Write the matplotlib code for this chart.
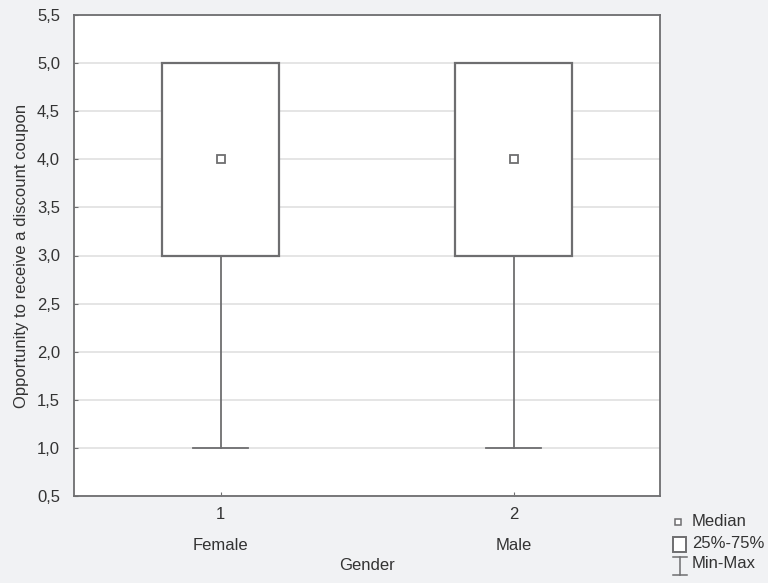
import matplotlib
matplotlib.use("Agg")
import matplotlib.pyplot as plt
import matplotlib.transforms as mtransforms
from matplotlib.patches import Rectangle
from matplotlib.lines import Line2D

categories = ["Female", "Male"]
codes = ["1", "2"]
medians = [4.0, 4.0]
q1 = [3.0, 3.0]
q3 = [5.0, 5.0]
mins = [1.0, 1.0]
maxs = [5.0, 5.0]
yticks = [0.5, 1.0, 1.5, 2.0, 2.5, 3.0, 3.5, 4.0, 4.5, 5.0, 5.5]

plt.rcParams['font.family'] = ['Liberation Sans', 'DejaVu Sans']
bg = '#f1f2f4'
ec = '#6e6e70'
tc = '#333333'
fs = 12

fig = plt.figure(figsize=(7.68, 5.83), dpi=100, facecolor=bg)
ax = fig.add_axes([74/768, 1-496/583, (660-74)/768, (496-15)/583])
ax.set_facecolor('white')

stats = []
for i in range(len(categories)):
    stats.append(dict(med=medians[i], q1=q1[i], q3=q3[i], whislo=mins[i], whishi=maxs[i], fliers=[]))
pos = list(range(1, len(categories)+1))
ax.bxp(stats, positions=pos, widths=0.4, patch_artist=True, showfliers=False,
       boxprops=dict(facecolor='white', edgecolor=ec, linewidth=1.6),
       whiskerprops=dict(color=ec, linewidth=1.3),
       capprops=dict(color=ec, linewidth=1.3),
       medianprops=dict(linewidth=0), capwidths=0.19, zorder=3)
ax.plot(pos, medians, linestyle='none', marker='s', markersize=5.5,
        markerfacecolor='white', markeredgecolor=ec, markeredgewidth=1.3, zorder=4)

ax.set_xlim(0.5, 2.5)
ax.set_ylim(0.5, 5.5)
ax.set_yticks(yticks)
ax.set_yticklabels([f"{v:.1f}".replace('.', ',') for v in yticks], color=tc, fontsize=fs)
ax.set_xticks(pos)
ax.set_xticklabels(codes, color=tc, fontsize=fs)
ax.tick_params(direction='in', length=3, color=ec)
ax.tick_params(axis='y', pad=10)
ax.tick_params(axis='x', pad=8)
ax.grid(axis='y', color='#e0e0e0', linewidth=1.2, zorder=0)
ax.set_axisbelow(True)
for s in ax.spines.values():
    s.set_color(ec)
    s.set_linewidth(1.3)

trans = mtransforms.blended_transform_factory(ax.transData, fig.transFigure)
for p, c in zip(pos, categories):
    ax.text(p, 1-545/583, c, transform=trans, ha='center', va='center', color=tc, fontsize=fs)
fig.text((74+660)/2/768, 1-565/583, "Gender", ha='center', va='center', color=tc, fontsize=fs)
ax.set_ylabel("Opportunity to receive a discount coupon", color=tc, fontsize=fs)
ax.yaxis.set_label_coords((29-74)/586, 0.5)

# legend
fx = lambda x: x/768
fy = lambda y: 1-y/583
fig.add_artist(Line2D([fx(678)], [fy(522)], marker='s', markersize=4.5, markerfacecolor='white',
                      markeredgecolor=ec, markeredgewidth=1.1, linestyle='none'))
fig.text(fx(692), fy(521), "Median", va='center', ha='left', color=tc, fontsize=fs)
fig.add_artist(Rectangle((fx(673), fy(552)), 13/768, 15/583, facecolor='white', edgecolor=ec, linewidth=1.4,
                         transform=fig.transFigure))
fig.text(fx(692), fy(543), "25%-75%", va='center', ha='left', color=tc, fontsize=fs)
fig.add_artist(Line2D([fx(680), fx(680)], [fy(557), fy(575)], color=ec, linewidth=1.1))
fig.add_artist(Line2D([fx(673), fx(687)], [fy(557), fy(557)], color=ec, linewidth=1.1))
fig.add_artist(Line2D([fx(673), fx(687)], [fy(575), fy(575)], color=ec, linewidth=1.1))
fig.text(fx(692), fy(564), "Min-Max", va='center', ha='left', color=tc, fontsize=fs)

fig.savefig("out.png", dpi=100, facecolor=bg)
